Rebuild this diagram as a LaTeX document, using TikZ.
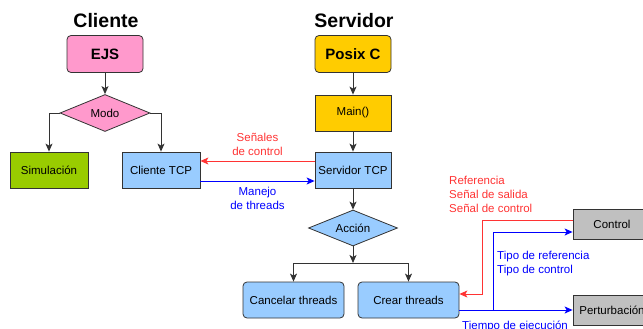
\documentclass[tikz,border=0pt]{standalone}
\usepackage{fontspec}
\setmainfont{Liberation Sans}
\usetikzlibrary{arrows.meta}
\usetikzlibrary{shapes.geometric}
\usetikzlibrary{positioning}

\definecolor{rosa}{HTML}{FF99CC}
\definecolor{verde}{HTML}{99CC00}
\definecolor{celeste}{HTML}{99CCFF}
\definecolor{naranja}{HTML}{FFCC00}
\definecolor{gris}{HTML}{C0C0C0}
\definecolor{rojo}{HTML}{FF3333}
\definecolor{azul}{HTML}{0000FF}

\begin{document}
\begin{tikzpicture}[x=1pt, y=-1pt, font=\fontsize{11.5}{14}\selectfont,
	caja/.style={draw=black!80, line width=0.8pt, inner sep=0pt,
		minimum width=78pt, minimum height=36pt},
	redonda/.style={caja, rounded corners=4pt},
	rombo/.style={draw=black!80, line width=0.8pt, diamond, aspect=2.4,
		inner sep=0pt, minimum width=90pt, minimum height=37pt},
	titulo/.style={font=\fontsize{19.5}{22}\selectfont\bfseries}]
	\useasboundingbox (0,0) rectangle (643,329);

	% titulos
	\node[titulo] (cliente) at (106,21) {Cliente};
	\node[titulo] (servidor) at (354,21) {Servidor};

	% cliente
	\begin{scope}[every node/.append style={fill=celeste}]
		\node[redonda, fill=rosa, minimum width=76pt, minimum height=37pt,
			font=\fontsize{15}{18}\selectfont\bfseries] (ejs) at (105,54) {EJS};
		\node[rombo, fill=rosa] (modo) at (105,113) {Modo};
		\node[caja, fill=verde] (sim) at (49,170) {Simulación};
		\node[caja] (ctcp) at (161,170) {Cliente TCP};
	\end{scope}

	% servidor
	\begin{scope}[every node/.append style={fill=celeste}]
		\node[redonda, fill=naranja, minimum width=76pt, minimum height=37pt,
			font=\fontsize{15}{18}\selectfont\bfseries] (posix) at (353,54) {Posix C};
		\node[caja, fill=naranja, minimum width=76pt] (main) at (353,113) {Main()};
		\node[caja, minimum width=76pt] (stcp) at (353,170) {Servidor TCP};
		\node[rombo, minimum width=89pt, minimum height=36pt] (accion) at (353,228) {Acción};
		\node[redonda, minimum width=101pt] (cancelar) at (293.5,300) {Cancelar threads};
		\node[redonda, minimum width=101pt] (crear) at (408.5,300) {Crear threads};
		\node[caja, fill=gris, minimum height=30pt] (control) at (612,224) {Control};
		\node[caja, fill=gris, minimum height=30pt] (perturbacion) at (612,310) {Perturbación};
	\end{scope}
	\coordinate (split) at (353,263);

	% flechas negras
	\begin{scope}[>={Stealth[length=8pt, width=7pt, inset=2pt]},
	              every path/.style={draw=black!80, line width=1pt}]
		\draw[->] (ejs) -- (modo);
		\draw[->] (modo.west) -| (sim.north);
		\draw[->] (modo.east) -| (ctcp.north);
		\draw[->] (posix) -- (main);
		\draw[->] (main) -- (stcp);
		\draw[->] (stcp) -- (accion);
		\draw[->] (accion) -- (split);
		\draw[->] (split) -| (cancelar.north);
		\draw[->] (split) -| (crear.north);
	\end{scope}

	% flechas de colores
	\begin{scope}[>={Stealth[length=8pt, width=7pt, inset=2pt]}, line width=1pt]
		\draw[->, rojo] ([yshift=9pt]stcp.west) --
			node[above=2pt, align=center]{Señales\\de control}
			([yshift=9pt]ctcp.east);
		\draw[->, azul] ([yshift=-11pt]ctcp.east) --
			node[below=2pt, align=center]{Manejo\\de threads}
			([yshift=-11pt]stcp.west);
		\draw[->, rojo] ([yshift=4pt]control.west) -| ([xshift=23pt, yshift=6pt]crear.east)
			-- ([yshift=6pt]crear.east);
		\draw[->, azul] ([yshift=-10pt]crear.east) -- (perturbacion.west);
		\draw[->, azul] ([xshift=34pt, yshift=-10pt]crear.east) |- ([yshift=-8pt]control.west);
	\end{scope}

	% etiquetas
	\node[anchor=north west, align=left, text=rojo, inner sep=0pt] (senales) at (449,176)
		{Referencia\\Señal de salida\\Señal de control};
	\node[anchor=north west, align=left, text=azul, inner sep=0pt] (tipos) at (497,251)
		{Tipo de referencia\\Tipo de control};
	\node[anchor=west, text=azul, inner sep=0pt] (tiempo) at (462,326) {Tiempo de ejecución};
\end{tikzpicture}
\end{document}
